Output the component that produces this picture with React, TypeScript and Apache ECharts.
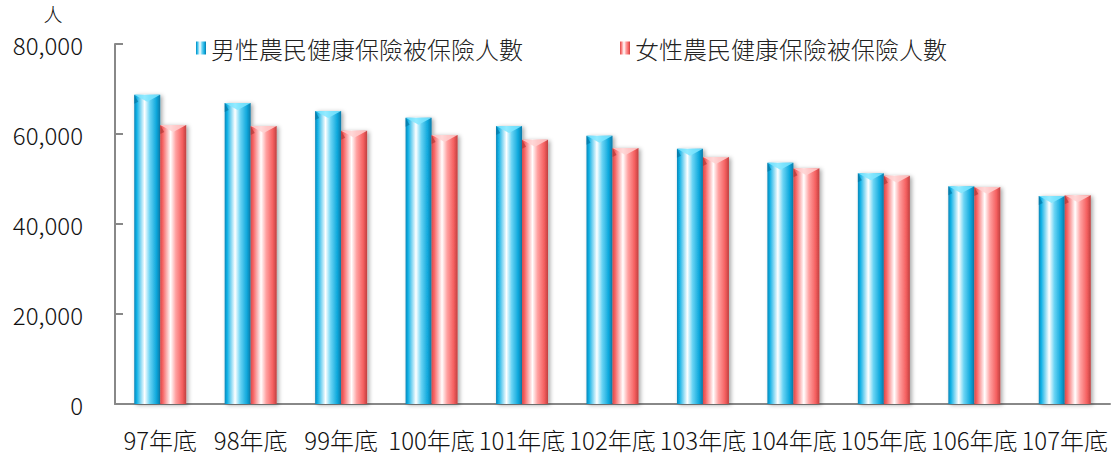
import React, { useEffect, useRef } from "react";
import * as echarts from "echarts";

const categories = ["97年底", "98年底", "99年底", "100年底", "101年底", "102年底", "103年底", "104年底", "105年底", "106年底", "107年底"];
const maleValues = [68700, 66900, 65100, 63600, 61800, 59600, 56700, 53600, 51300, 48400, 46200];
const femaleValues = [62000, 61800, 60700, 59800, 58700, 56900, 54900, 52400, 50700, 48200, 46400];
const seriesNames = ["男性農民健康保險被保險人數", "女性農民健康保險被保險人數"];
const yTicks = [0, 20000, 40000, 60000, 80000];

const FONT = "'Noto Sans CJK TC', 'Noto Sans', sans-serif";
const BAR_W = 26;

const blueGrad = () =>
  new echarts.graphic.LinearGradient(0, 0, 1, 0, [
    { offset: 0, color: "#0a86b8" },
    { offset: 0.1, color: "#12b2e6" },
    { offset: 0.4, color: "#ffffff" },
    { offset: 0.6, color: "#6ad4f4" },
    { offset: 0.85, color: "#0fa8dc" },
    { offset: 1, color: "#0a7aa8" },
  ]);
const redGrad = () =>
  new echarts.graphic.LinearGradient(0, 0, 1, 0, [
    { offset: 0, color: "#d84a4a" },
    { offset: 0.1, color: "#f76565" },
    { offset: 0.4, color: "#ffffff" },
    { offset: 0.6, color: "#ffa0a0" },
    { offset: 0.85, color: "#f56060" },
    { offset: 1, color: "#c04040" },
  ]);

function capSeries(values: number[], side: number, light: string, dark: string) {
  return {
    type: "custom",
    name: "cap" + side,
    z: 5,
    silent: true,
    data: values.map((v, i) => [i, v]),
    renderItem: (params: any, api: any) => {
      const p = api.coord([api.value(0), api.value(1)]);
      const x0 = side === 0 ? p[0] - BAR_W : p[0];
      const x1 = x0 + BAR_W;
      const y = p[1];
      const xc = x0 + BAR_W / 2;
      const h = 7;
      return {
        type: "group",
        children: [
          {
            type: "polygon",
            shape: { points: [[x0, y], [x0 + 4, y + h], [x0, y + h + 2]] },
            style: { fill: dark, opacity: 0.6 },
          },
          {
            type: "polygon",
            shape: { points: [[x0, y], [x1, y], [xc, y + h]] },
            style: { fill: light, opacity: 0.85 },
          },
        ],
      };
    },
  };
}

export default function App() {
  const ref = useRef<HTMLDivElement>(null);
  useEffect(() => {
    const chart = echarts.init(ref.current!, null, { renderer: "svg" });
    chart.setOption({
      animation: false,
      backgroundColor: "#ffffff",
      textStyle: { fontFamily: FONT },
      grid: { left: 115, right: 9, top: 44, bottom: 52, containLabel: false },
      legend: {
        left: 191,
        top: 31,
        itemWidth: 10,
        itemHeight: 13,
        itemGap: 97,
        icon: "rect",
        textStyle: { fontSize: 24, color: "#222", fontFamily: FONT, fontWeight: 300 },
        data: seriesNames,
      },
      graphic: [
        {
          type: "text",
          x: 53,
          y: 13,
          style: {
            text: "人",
            fill: "#111",
            font: `300 19px ${FONT}`,
            lineHeight: 19,
            align: "center",
            verticalAlign: "middle",
          },
        },
      ],
      xAxis: {
        type: "category",
        data: categories,
        axisLine: { lineStyle: { color: "#888", width: 2 } },
        axisTick: { show: false },
        axisLabel: { fontSize: 24, color: "#111", margin: 23, interval: 0, fontWeight: 300 },
      },
      yAxis: {
        type: "value",
        min: 0,
        max: 80000,
        interval: 20000,
        axisLine: { show: true, lineStyle: { color: "#888", width: 2 } },
        axisTick: { show: true, inside: true, length: 8, lineStyle: { color: "#888", width: 2 } },
        splitLine: { show: false },
        axisLabel: {
          fontSize: 24,
          lineHeight: 24,
          color: "#111",
          margin: 32,
          fontWeight: 300,
          formatter: (v: number) => (yTicks.includes(v) ? v.toLocaleString("en-US") : ""),
        },
      },
      series: [
        {
          name: seriesNames[0],
          type: "bar",
          data: maleValues,
          barWidth: BAR_W,
          barGap: "0%",
          itemStyle: {
            color: blueGrad(),
            shadowColor: "rgba(0,0,0,0.35)",
            shadowBlur: 4,
            shadowOffsetX: 2,
            shadowOffsetY: 1,
          },
        },
        {
          name: seriesNames[1],
          type: "bar",
          data: femaleValues,
          barWidth: BAR_W,
          barGap: "0%",
          itemStyle: {
            color: redGrad(),
            shadowColor: "rgba(0,0,0,0.35)",
            shadowBlur: 4,
            shadowOffsetX: 2,
            shadowOffsetY: 1,
          },
        },
        capSeries(maleValues, 0, "#7fe6ff", "#006f9c"),
        capSeries(femaleValues, 1, "#ffd0d0", "#a83030"),
      ],
    });
    return () => chart.dispose();
  }, []);
  return <div ref={ref} style={{ width: 1119, height: 456, position: "absolute", left: 0, top: 0 }} />;
}
